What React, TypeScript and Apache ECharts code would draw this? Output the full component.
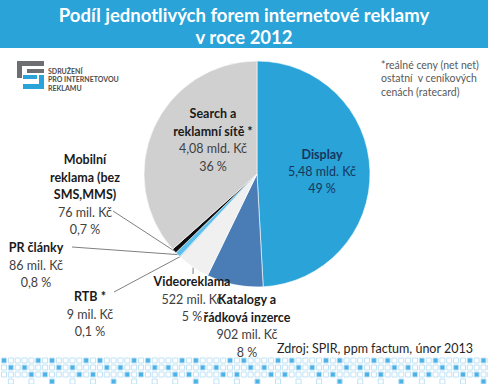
import React, { useEffect, useRef } from 'react';
import * as echarts from 'echarts';

const categories = [
  'Display',
  'Katalogy a\nřádková inzerce',
  'Videoreklama',
  'RTB *',
  'PR články',
  'Mobilní\nreklama (bez\nSMS,MMS)',
  'Search a\nreklamní sítě *',
];
const valuesMilKc = [5480, 902, 522, 9, 86, 76, 4080];
const valueLabels = ['5,48 mld. Kč', '902 mil. Kč', '522 mil. Kč', '9 mil. Kč', '86 mil. Kč', '76 mil. Kč', '4,08 mld. Kč'];
const shareLabels = ['49 %', '8 %', '5 %', '0,1 %', '0,8 %', '0,7 %', '36 %'];
const sliceColors = ['#29a3d8', '#4a7cb6', '#f0f0f0', '#1f4e79', '#5cc0ef', '#0d0d0d', '#d0d0d0'];
const insideLabel = [true, false, false, false, false, false, true];
const showLeader = [false, false, true, true, true, true, false];

const titleText = 'Podíl jednotlivých forem internetové reklamy\nv roce 2012';
const noteText = '*reálné ceny (net net)\nostatní  v ceníkových\ncenách (ratecard)';
const sourceText = 'Zdroj: SPIR, ppm factum, únor 2013';
const logoText = 'SDRUŽENÍ\nPRO INTERNETOVOU\nREKLAMU';

// label anchor positions (center x, top y) per slice
const labelPos: [number, number][] = [
  [322, 146], [247, 291], [192, 273], [90, 288], [36, 239], [85, 151], [213, 105],
];
// where each leader line touches its label (null = no leader)
const leaderEnd: ([number, number] | null)[] = [
  null, null, [193, 274], [114, 292], [72, 247], [113, 211], null,
];

const FONT = 'Lato';

export default function App() {
  const ref = useRef<HTMLDivElement>(null);
  useEffect(() => {
    document.body.style.margin = '0';
    const chart = echarts.init(ref.current!, null, { renderer: 'svg' });

    const data = categories.map((name, i) => ({
      name,
      value: valuesMilKc[i],
      itemStyle: { color: sliceColors[i] },
      label: { position: insideLabel[i] ? 'inside' : 'outside' },
      labelLine: { show: showLeader[i] },
    }));

    const pattern: any[] = [];
    for (let r = 0; r < 4; r++) {
      for (let c = 0; c < 72; c++) {
        if (r === 3 && c % 3 !== 1) continue;
        const filled = (c * 3 + r * 5) % 7 < 2;
        pattern.push({
          type: 'rect',
          shape: { x: 1.5 + c * 6.85, y: 358 + r * 7, width: 5, height: 5 },
          style: { fill: filled ? '#4cb1e5' : '#ffffff', stroke: '#bfe2f6', lineWidth: 1 },
          silent: true,
        });
      }
    }

    const logo = [
      { type: 'rect', shape: { x: 17, y: 61, width: 27, height: 5 }, style: { fill: '#6d6e71' } },
      { type: 'rect', shape: { x: 17, y: 61, width: 5, height: 17 }, style: { fill: '#6d6e71' } },
      { type: 'rect', shape: { x: 27, y: 69, width: 17, height: 4 }, style: { fill: '#6d6e71' } },
      { type: 'rect', shape: { x: 23, y: 75, width: 14, height: 4 }, style: { fill: '#29a3d8' } },
      { type: 'rect', shape: { x: 39, y: 75, width: 5, height: 14 }, style: { fill: '#29a3d8' } },
      { type: 'rect', shape: { x: 23, y: 84, width: 21, height: 5 }, style: { fill: '#29a3d8' } },
      {
        type: 'text', x: 48, y: 67,
        style: { text: logoText, font: `bold 7px ${FONT}`, fill: '#4d4d4d', lineHeight: 8.3 },
      },
    ];

    const option: any = {
      animation: false,
      backgroundColor: '#ffffff',
      title: {
        text: titleText,
        left: 'center',
        top: 4,
        padding: 0,
        textStyle: { color: '#ffffff', fontSize: 18.5, fontWeight: 'bold', fontFamily: FONT, lineHeight: 22 },
      },
      graphic: [
        { type: 'rect', z: -1, shape: { x: 0, y: 0, width: 488, height: 48 }, style: { fill: '#29a3d8' } },
        ...logo,
        {
          type: 'text', x: 381, y: 58,
          style: { text: noteText, font: `10.5px ${FONT}`, fill: '#595959', lineHeight: 13.5 },
        },
        {
          type: 'text', x: 277, y: 342,
          style: { text: sourceText, font: `12.5px ${FONT}`, fill: '#262626' },
        },
        ...pattern,
      ],
      series: [
        {
          type: 'pie',
          center: [257, 174],
          radius: 113,
          startAngle: 90,
          clockwise: true,
          avoidLabelOverlap: false,
          data,
          itemStyle: { borderColor: '#ffffff', borderWidth: 0.6 },
          label: {
            fontFamily: FONT,
            formatter: (p: any) => {
              const i = p.dataIndex;
              const isD = i === 0;
              const nameLines = String(p.name).split('\n').map((s) => `{${isD ? 'db' : 'b'}|${s}}`);
              return [...nameLines, `{${isD ? 'dv' : 'v'}|${valueLabels[i]}}`, `{${isD ? 'dv' : 'v'}|${shareLabels[i]}}`].join('\n');
            },
            rich: {
              b: { fontFamily: FONT, fontSize: 12.5, fontWeight: 'bold', color: '#1a1a1a', lineHeight: 17.5, align: 'center' },
              v: { fontFamily: FONT, fontSize: 12.5, color: '#404040', lineHeight: 17.5, align: 'center' },
              db: { fontFamily: FONT, fontSize: 12.5, fontWeight: 'bold', color: '#17375e', lineHeight: 17, align: 'center' },
              dv: { fontFamily: FONT, fontSize: 12.5, color: '#17375e', lineHeight: 17, align: 'center' },
            },
          },
          labelLine: { length: 10, length2: 4, lineStyle: { color: '#808080', width: 1 } },
          labelLayout: (params: any) => {
            const i = params.dataIndex;
            const pos = labelPos[i];
            const out: any = { x: pos[0], y: pos[1], align: 'center', verticalAlign: 'top' };
            const end = leaderEnd[i];
            const pts = params.labelLinePoints;
            if (end && pts && pts.length) {
              out.labelLinePoints = [pts[0], end];
            }
            return out;
          },
        },
      ],
    };
    chart.setOption(option);
    return () => chart.dispose();
  }, []);
  return <div ref={ref} style={{ width: 488, height: 384 }} />;
}
